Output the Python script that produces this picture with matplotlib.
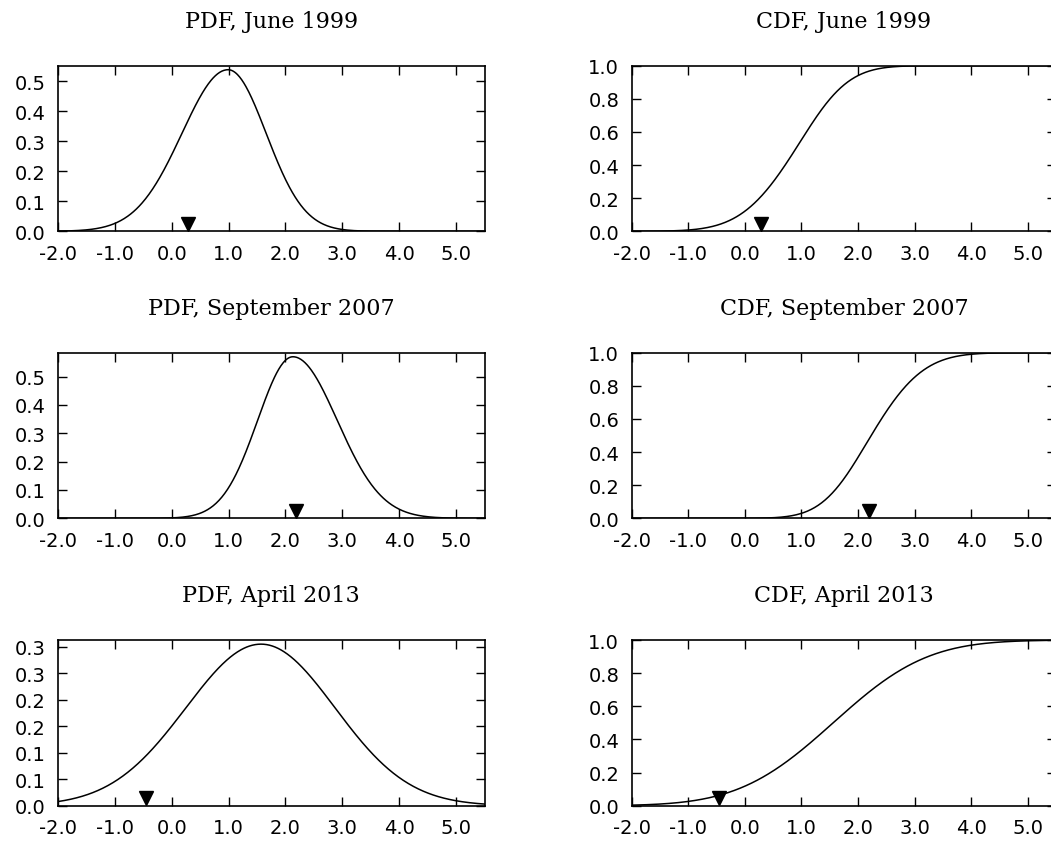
import math

import numpy as np
import matplotlib
matplotlib.use('Agg')
import matplotlib.pyplot as plt
from matplotlib.ticker import MultipleLocator, FormatStrFormatter

# Forecast densities (two-piece normal)
DATES = ['June 1999', 'September 2007', 'April 2013']
MODES = [0.99, 2.13, 1.57]
SIGMA_LEFT = [0.81, 0.62, 1.32]
SIGMA_RIGHT = [0.67, 0.78, 1.30]
OUTCOMES = [0.28, 2.19, -0.46]   # the black triangles

X_MIN, X_MAX = -2.0, 5.5
PDF_TICK_STEP = [0.1, 0.1, 0.05]


def split_normal_pdf(x, mode, s1, s2):
    a = math.sqrt(2 / math.pi) / (s1 + s2)
    s = np.where(x < mode, s1, s2)
    return a * np.exp(-(x - mode) ** 2 / (2 * s ** 2))


def split_normal_cdf(x, mode, s1, s2):
    w1 = s1 / (s1 + s2)
    w2 = s2 / (s1 + s2)
    erf = np.vectorize(math.erf)
    left = 2 * w1 * 0.5 * (1 + erf((x - mode) / (s1 * math.sqrt(2))))
    right = w1 + 2 * w2 * (0.5 * (1 + erf((x - mode) / (s2 * math.sqrt(2)))) - 0.5)
    return np.where(x < mode, left, right)


def style_axes(ax):
    ax.set_xlim(X_MIN, X_MAX)
    ax.xaxis.set_major_locator(MultipleLocator(1.0))
    ax.xaxis.set_major_formatter(FormatStrFormatter('%.1f'))
    ax.yaxis.set_major_formatter(FormatStrFormatter('%.1f'))
    ax.tick_params(direction='in', top=True, right=True, length=6.5, width=1,
                   labelsize=14, pad=9)
    for sp in ax.spines.values():
        sp.set_linewidth(1.2)


fig = plt.figure(figsize=(10.51, 8.45), dpi=100)

# the right column runs slightly past the figure edge, as in the original
row_bottoms = [0.7251, 0.3854, 0.0453]
ax_h = 0.196
left_x, right_x = 0.0552, 0.601
left_w, right_w = 0.4058, 0.4040
title_font = dict(family='DejaVu Serif', size=16)

xs = np.linspace(X_MIN, X_MAX, 600)

for i, date in enumerate(DATES):
    pdf = split_normal_pdf(xs, MODES[i], SIGMA_LEFT[i], SIGMA_RIGHT[i])
    cdf = split_normal_cdf(xs, MODES[i], SIGMA_LEFT[i], SIGMA_RIGHT[i])

    # PDF panel
    ax = fig.add_axes([left_x, row_bottoms[i], left_w, ax_h])
    ax.plot(xs, pdf, color='black', lw=1.1)
    ymax = pdf.max() * 1.025
    ax.set_ylim(0, ymax)
    ax.plot([OUTCOMES[i]], [0.045 * ymax], marker='v', color='black',
            markersize=10, linestyle='none')
    style_axes(ax)
    ax.yaxis.set_major_locator(MultipleLocator(PDF_TICK_STEP[i]))
    ax.set_title('PDF, ' + date, pad=28, **title_font)

    # CDF panel
    ax = fig.add_axes([right_x, row_bottoms[i], right_w, ax_h])
    ax.plot(xs, cdf, color='black', lw=1.1)
    ax.set_ylim(0, 1.0)
    ax.plot([OUTCOMES[i]], [0.045], marker='v', color='black',
            markersize=10, linestyle='none')
    style_axes(ax)
    ax.yaxis.set_major_locator(MultipleLocator(0.2))
    ax.set_title('CDF, ' + date, pad=28, **title_font)

fig.savefig('out.png', dpi=100)
